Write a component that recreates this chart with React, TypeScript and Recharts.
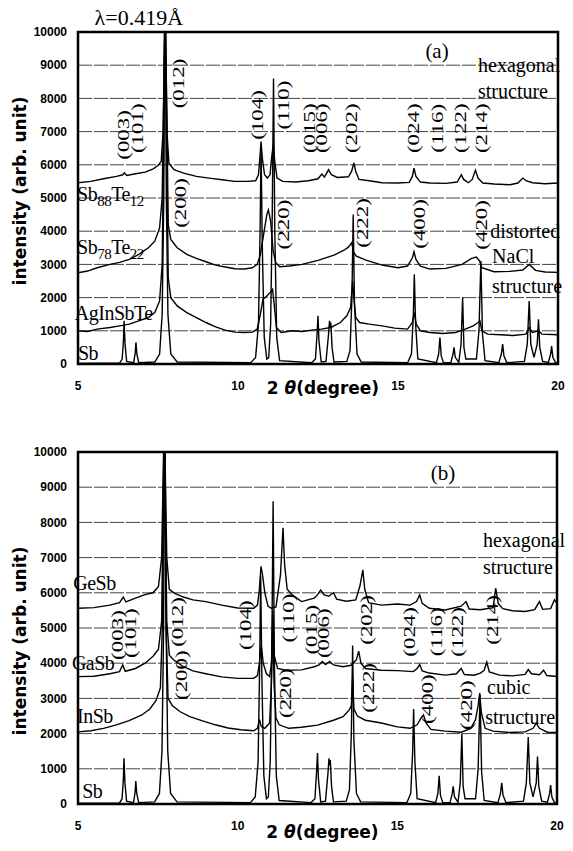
import React from "react"
import { LineChart, Line, XAxis, YAxis, CartesianGrid, ReferenceArea, ReferenceDot } from "recharts"

// 2theta (degree), intensity (arb. unit)
const sbPattern = [
  [5.0, 20], [6.3, 30], [6.38, 150], [6.42, 700], [6.44, 1300], [6.47, 600], [6.52, 80],
  [6.74, 40], [6.79, 350], [6.81, 650], [6.84, 300], [6.9, 40], [7.4, 60], [7.55, 300],
  [7.63, 1500], [7.68, 5000], [7.72, 12000], [7.76, 5000], [7.81, 1500], [7.9, 300], [8.1, 60],
  [10.4, 40], [10.55, 200], [10.64, 1200], [10.69, 4000], [10.72, 6500], [10.76, 3500],
  [10.82, 800], [10.9, 150], [10.96, 200], [11.02, 1200], [11.07, 4500], [11.11, 8600],
  [11.15, 4000], [11.21, 800], [11.3, 100], [12.3, 40], [12.42, 150], [12.47, 900], [12.5, 1450],
  [12.53, 700], [12.6, 60], [12.75, 80], [12.83, 900], [12.86, 1300], [12.88, 1100], [12.9, 1250],
  [12.94, 500], [13.0, 60], [13.4, 80], [13.5, 400], [13.56, 2000], [13.6, 4500], [13.64, 1800],
  [13.72, 300], [13.85, 60], [15.3, 40], [15.42, 300], [15.48, 1500], [15.51, 2700], [15.55, 1200],
  [15.62, 150], [16.2, 40], [16.27, 300], [16.31, 800], [16.35, 250], [16.42, 40], [16.65, 40],
  [16.72, 300], [16.75, 500], [16.79, 200], [16.9, 50], [16.97, 600], [17.02, 2000], [17.06, 500],
  [17.12, 150], [17.45, 150], [17.53, 1000], [17.59, 3100], [17.64, 900], [17.72, 100],
  [18.15, 40], [18.23, 300], [18.27, 600], [18.31, 250], [18.4, 40], [18.95, 80], [19.04, 600],
  [19.1, 1900], [19.15, 600], [19.25, 200], [19.35, 600], [19.39, 1350], [19.43, 500], [19.52, 80],
  [19.7, 50], [19.77, 300], [19.8, 540], [19.84, 200], [19.92, 40], [20.0, 30],
]

const agInSbTePattern = [
  [5.0, 1000], [5.3, 980], [5.6, 1050], [6.0, 1100], [6.3, 1150], [6.6, 1200], [6.9, 1300],
  [7.2, 1400], [7.4, 1550], [7.55, 1900], [7.63, 3000], [7.68, 7000], [7.72, 11000], [7.77, 7000],
  [7.82, 2600], [7.9, 2000], [8.1, 1750], [8.4, 1550], [8.7, 1400], [9.0, 1250], [9.3, 1120],
  [9.6, 1020], [9.9, 960], [10.2, 950], [10.45, 960], [10.6, 1050], [10.7, 1500], [10.78, 1950],
  [10.9, 2050], [11.0, 2150], [11.08, 2250], [11.13, 1800], [11.2, 1100], [11.35, 950],
  [11.7, 1000], [12.0, 980], [12.3, 1020], [12.6, 1050], [12.9, 1100], [13.2, 1250], [13.4, 1450],
  [13.52, 1700], [13.58, 2500], [13.62, 2000], [13.68, 1400], [13.8, 1250], [14.1, 1200],
  [14.5, 1150], [14.9, 1080], [15.3, 1050], [15.45, 1250], [15.51, 1550], [15.57, 1200],
  [15.7, 1000], [16.0, 950], [16.4, 920], [16.8, 950], [17.1, 1050], [17.35, 1150], [17.5, 1250],
  [17.56, 1300], [17.62, 1000], [17.8, 900], [18.2, 880], [18.6, 860], [19.0, 900], [19.1, 1100],
  [19.2, 950], [19.4, 1000], [19.5, 900], [20.0, 880],
]

const sb78Te22Pattern = [
  [5.0, 2750], [5.3, 2800], [5.6, 2900], [6.0, 3000], [6.3, 3060], [6.6, 3150], [6.9, 3300],
  [7.2, 3500], [7.4, 3700], [7.55, 4100], [7.63, 5000], [7.68, 8000], [7.72, 11000], [7.77, 8000],
  [7.82, 4200], [7.9, 3750], [8.1, 3500], [8.4, 3300], [8.7, 3180], [9.0, 3080], [9.3, 2980],
  [9.6, 2920], [9.9, 2870], [10.2, 2860], [10.45, 2900], [10.6, 3000], [10.7, 3300], [10.8, 3900],
  [10.9, 4500], [10.95, 4640], [11.02, 4300], [11.1, 3400], [11.18, 3050], [11.3, 2930],
  [11.6, 2950], [12.0, 3000], [12.5, 3120], [13.0, 3280], [13.3, 3420], [13.45, 3520],
  [13.55, 3650], [13.62, 3350], [13.7, 3250], [14.0, 3130], [14.5, 2980], [15.0, 2900],
  [15.3, 2950], [15.45, 3200], [15.5, 3380], [15.56, 3150], [15.7, 2950], [16.0, 2860],
  [16.5, 2880], [17.0, 3000], [17.3, 3180], [17.45, 3220], [17.55, 3100], [17.62, 2900],
  [18.0, 2780], [18.5, 2790], [18.9, 2830], [19.1, 3000], [19.3, 2820], [19.6, 2770], [20.0, 2760],
]

const sb88Te12Pattern = [
  [5.0, 5460], [5.4, 5500], [5.8, 5580], [6.2, 5650], [6.4, 5700], [6.45, 5760], [6.52, 5680],
  [6.8, 5730], [7.1, 5780], [7.35, 5880], [7.5, 5980], [7.6, 6100], [7.66, 7000], [7.72, 11000],
  [7.78, 7000], [7.84, 6050], [8.0, 5850], [8.3, 5750], [8.7, 5650], [9.1, 5600], [9.5, 5550],
  [9.9, 5500], [10.3, 5500], [10.55, 5520], [10.64, 5700], [10.69, 6300], [10.72, 6700],
  [10.76, 6200], [10.83, 5700], [10.92, 5600], [11.0, 5700], [11.05, 6200], [11.1, 6600],
  [11.15, 6100], [11.22, 5600], [11.4, 5500], [11.8, 5480], [12.2, 5520], [12.5, 5580],
  [12.62, 5720], [12.7, 5630], [12.83, 5850], [12.92, 5700], [13.1, 5620], [13.45, 5640],
  [13.55, 5800], [13.62, 6060], [13.68, 5800], [13.78, 5560], [14.1, 5520], [14.5, 5460],
  [15.0, 5450], [15.35, 5470], [15.45, 5650], [15.5, 5900], [15.56, 5650], [15.7, 5480],
  [16.0, 5450], [16.5, 5440], [16.85, 5480], [16.98, 5700], [17.05, 5560], [17.2, 5460],
  [17.32, 5560], [17.42, 5840], [17.5, 5600], [17.65, 5450], [18.0, 5420], [18.5, 5400],
  [18.75, 5450], [18.9, 5600], [19.0, 5520], [19.2, 5460], [19.6, 5430], [20.0, 5450],
]

const inSbPattern = [
  [5.0, 2050], [5.4, 2080], [5.8, 2150], [6.2, 2250], [6.6, 2370], [7.0, 2530], [7.25, 2700],
  [7.45, 2950], [7.58, 3300], [7.64, 5000], [7.7, 11000], [7.76, 5000], [7.82, 3000], [7.95, 2800],
  [8.2, 2620], [8.5, 2480], [8.9, 2360], [9.3, 2250], [9.7, 2160], [10.1, 2110], [10.5, 2080],
  [10.62, 2150], [10.68, 2400], [10.74, 2200], [10.85, 2150], [11.0, 2300], [11.06, 3500],
  [11.1, 5200], [11.14, 3400], [11.2, 2450], [11.3, 2250], [11.6, 2150], [12.0, 2180],
  [12.5, 2240], [13.0, 2380], [13.3, 2480], [13.5, 2680], [13.56, 2800], [13.6, 3600],
  [13.64, 2700], [13.75, 2500], [14.0, 2380], [14.5, 2300], [15.0, 2190], [15.4, 2150],
  [15.62, 2250], [15.75, 2450], [15.82, 2530], [15.9, 2300], [16.05, 2120], [16.5, 2070],
  [17.0, 2040], [17.3, 2150], [17.45, 2400], [17.53, 2800], [17.58, 3150], [17.63, 2600],
  [17.75, 2150], [18.0, 2070], [18.5, 2030], [19.0, 2050], [19.25, 2150], [19.35, 2300],
  [19.45, 2150], [19.7, 2040], [20.0, 2030],
]

const gaSbPattern = [
  [5.0, 3620], [5.5, 3630], [6.0, 3700], [6.3, 3760], [6.4, 3950], [6.48, 3770], [6.8, 3850],
  [7.1, 4000], [7.35, 4200], [7.52, 4400], [7.62, 5200], [7.7, 11000], [7.78, 5200], [7.86, 4230],
  [8.0, 4090], [8.3, 3900], [8.6, 3780], [9.0, 3700], [9.5, 3610], [10.0, 3570], [10.5, 3570],
  [10.62, 3650], [10.68, 4000], [10.74, 4500], [10.8, 4000], [10.9, 3700], [11.0, 3620],
  [11.06, 4000], [11.1, 5500], [11.15, 4200], [11.25, 3850], [11.5, 3800], [12.0, 3810],
  [12.4, 3900], [12.55, 3950], [12.65, 4050], [12.75, 3960], [12.88, 4050], [13.0, 3950],
  [13.3, 3900], [13.55, 3940], [13.72, 4100], [13.79, 4340], [13.86, 4000], [14.0, 3850],
  [14.5, 3800], [15.0, 3790], [15.5, 3760], [15.62, 3850], [15.7, 3960], [15.78, 3780],
  [16.0, 3720], [16.5, 3660], [16.85, 3700], [17.0, 3850], [17.1, 3680], [17.4, 3660],
  [17.6, 3720], [17.72, 3800], [17.8, 4030], [17.88, 3750], [18.2, 3660], [18.6, 3640],
  [19.0, 3680], [19.1, 3820], [19.2, 3700], [19.45, 3670], [19.58, 3800], [19.68, 3650],
  [20.0, 3620],
]

const geSbPattern = [
  [5.0, 5560], [5.5, 5580], [6.0, 5650], [6.3, 5720], [6.42, 5880], [6.5, 5740], [6.8, 5850],
  [7.1, 5950], [7.35, 6000], [7.52, 6180], [7.62, 7000], [7.7, 11000], [7.78, 7000], [7.86, 6100],
  [8.0, 6000], [8.3, 5880], [8.6, 5800], [9.0, 5750], [9.5, 5650], [10.0, 5570], [10.5, 5560],
  [10.62, 5650], [10.68, 6100], [10.73, 6750], [10.78, 6500], [10.85, 6000], [10.95, 5620],
  [11.05, 5560], [11.2, 5600], [11.34, 6500], [11.42, 7850], [11.47, 6800], [11.55, 6100],
  [11.7, 5950], [12.0, 5750], [12.4, 5850], [12.5, 5940], [12.6, 6080], [12.7, 5950],
  [12.85, 5900], [13.0, 6000], [13.1, 5820], [13.4, 5760], [13.7, 5800], [13.83, 6200],
  [13.92, 6650], [13.98, 6100], [14.1, 5720], [14.5, 5650], [15.0, 5680], [15.4, 5650],
  [15.6, 5750], [15.7, 5940], [15.78, 5700], [16.0, 5560], [16.5, 5510], [17.0, 5620],
  [17.15, 5750], [17.25, 5540], [17.6, 5520], [18.0, 5580], [18.08, 6130], [18.16, 5700],
  [18.3, 5550], [18.6, 5490], [19.0, 5470], [19.3, 5520], [19.45, 5750], [19.55, 5530],
  [19.8, 5550], [19.92, 5800], [20.0, 5700],
]

const xTicks = [5, 10, 15, 20]
const yTicks = [0, 1000, 2000, 3000, 4000, 5000, 6000, 7000, 8000, 9000, 10000]

// peak index labels, anchored at (2theta, intensity)
const topHkl = [
  { t: "(003)", x: 6.41, y: 6900 }, { t: "(101)", x: 6.84, y: 7100 },
  { t: "(012)", x: 8.12, y: 8450 }, { t: "(104)", x: 10.6, y: 7500 },
  { t: "(110)", x: 11.42, y: 7800 }, { t: "(015)", x: 12.22, y: 7100 },
  { t: "(006)", x: 12.59, y: 7100 }, { t: "(202)", x: 13.55, y: 7100 },
  { t: "(024)", x: 15.47, y: 7100 }, { t: "(116)", x: 16.23, y: 7100 },
  { t: "(122)", x: 16.94, y: 7100 }, { t: "(214)", x: 17.61, y: 7100 },
  { t: "(200)", x: 8.19, y: 4850 }, { t: "(220)", x: 11.42, y: 4200 },
  { t: "(222)", x: 13.88, y: 4250 }, { t: "(400)", x: 15.66, y: 4220 },
  { t: "(420)", x: 17.59, y: 4190 },
]

const bottomHkl = [
  { t: "(003)", x: 6.21, y: 4800 }, { t: "(101)", x: 6.63, y: 4850 },
  { t: "(012)", x: 8.1, y: 5170 }, { t: "(104)", x: 10.23, y: 5080 },
  { t: "(110)", x: 11.59, y: 5280 }, { t: "(015)", x: 12.3, y: 4950 },
  { t: "(006)", x: 12.67, y: 4850 }, { t: "(202)", x: 14.02, y: 5230 },
  { t: "(024)", x: 15.37, y: 4890 }, { t: "(116)", x: 16.21, y: 4890 },
  { t: "(122)", x: 16.87, y: 4890 }, { t: "(214)", x: 17.97, y: 5230 },
  { t: "(200)", x: 8.23, y: 3660 }, { t: "(220)", x: 11.5, y: 3150 },
  { t: "(222)", x: 14.08, y: 3300 }, { t: "(400)", x: 15.93, y: 2980 },
  { t: "(420)", x: 17.15, y: 2810 },
]

const topNotes = [
  { t: "(a)", x: 16.22, y: 9220, anchor: "middle", size: 21 },
  { t: "hexagonal", x: 17.5, y: 8800, anchor: "start", size: 20 },
  { t: "structure", x: 17.5, y: 8010, anchor: "start", size: 20 },
  { t: "distorted", x: 17.88, y: 3800, anchor: "start", size: 20 },
  { t: "NaCl", x: 17.94, y: 3040, anchor: "start", size: 20 },
  { t: "structure", x: 17.94, y: 2140, anchor: "start", size: 20 },
  { t: "\u03bb=0.419\u00c5", x: 6.9, y: 10210, anchor: "middle", size: 22 },
]

const bottomNotes = [
  { t: "(b)", x: 16.43, y: 9200, anchor: "middle", size: 21 },
  { t: "hexagonal", x: 17.68, y: 7310, anchor: "start", size: 20 },
  { t: "structure", x: 17.68, y: 6530, anchor: "start", size: 20 },
  { t: "cubic", x: 17.81, y: 3120, anchor: "start", size: 20 },
  { t: "structure", x: 17.75, y: 2270, anchor: "start", size: 20 },
]

const topNames = [
  { parts: [["Sb", 0], ["88", 1], ["Te", 0], ["12", 1]], x: 4.97, y: 4900 },
  { parts: [["Sb", 0], ["78", 1], ["Te", 0], ["22", 1]], x: 4.97, y: 3310 },
  { parts: [["AgInSbTe", 0]], x: 4.9, y: 1320 },
  { parts: [["Sb", 0]], x: 5.0, y: 120 },
]

const bottomNames = [
  { parts: [["GeSb", 0]], x: 4.85, y: 6080 },
  { parts: [["GaSb", 0]], x: 4.81, y: 3800 },
  { parts: [["InSb", 0]], x: 4.97, y: 2290 },
  { parts: [["Sb", 0]], x: 5.13, y: 170 },
]

const toPts = (arr: number[][]) => arr.map(([x, y]) => ({ x, y }))

const serif = "'Liberation Serif', 'Times New Roman', serif"

function HklText(props: any) {
  const { viewBox, text } = props
  return (
    <text
      transform={`translate(${viewBox.x},${viewBox.y}) rotate(-90) scale(1.35,1)`}
      textAnchor="middle"
      dominantBaseline="central"
      fontFamily={serif}
      fontSize={17}
      fill="#000"
    >
      {text}
    </text>
  )
}

function NoteText(props: any) {
  const { viewBox, text, anchor, size } = props
  return (
    <text x={viewBox.x} y={viewBox.y} textAnchor={anchor} fontFamily={serif} fontSize={size} fill="#000">
      {text}
    </text>
  )
}

function NameText(props: any) {
  const { viewBox, parts } = props
  return (
    <text x={viewBox.x} y={viewBox.y} fontFamily={serif} fontSize={20} fill="#000" letterSpacing={-0.5}>
      {parts.map(([s, sub]: [string, number], i: number) => {
        const prevSub = i > 0 && parts[i - 1][1]
        const dy = sub ? 5 : prevSub ? -5 : 0
        return (
          <tspan key={i} dy={dy} fontSize={sub ? 15 : 20}>
            {s}
          </tspan>
        )
      })}
    </text>
  )
}

function YTitle(props: any) {
  const { viewBox, shift } = props
  const cx = viewBox.x + 20
  const cy = viewBox.y + viewBox.height / 2 + shift
  return (
    <text
      transform={`translate(${cx},${cy}) rotate(-90)`}
      textAnchor="middle"
      dominantBaseline="central"
      fontFamily="'DejaVu Sans', sans-serif"
      fontWeight="bold"
      fontSize={17}
      fill="#000"
    >
      intensity (arb. unit)
    </text>
  )
}

function XTitle(props: any) {
  const { viewBox, drop } = props
  return (
    <text
      x={viewBox.x + viewBox.width / 2 + 5}
      y={viewBox.y + drop}
      textAnchor="middle"
      fontFamily="'DejaVu Sans', sans-serif"
      fontWeight="bold"
      fontSize={17}
      fill="#000"
    >
      <tspan>2 </tspan>
      <tspan fontStyle="italic">θ</tspan>
      <tspan>(degree)</tspan>
    </text>
  )
}

const tickStyle = { fontFamily: "'Liberation Sans', Arial, sans-serif", fontWeight: 700, fontSize: 12, fill: "#000" }

function Panel(props: any) {
  const { top, height, margin, series, hkl, notes, names, yShift, xDrop } = props
  return (
    <div style={{ position: "absolute", left: 0, top, width: 573, height }}>
      <LineChart width={573} height={height} margin={margin}>
        <CartesianGrid vertical={false} stroke="#444" strokeDasharray="14 2" />
        <XAxis
          type="number"
          dataKey="x"
          domain={[5, 20]}
          ticks={xTicks}
          allowDataOverflow
          axisLine={false}
          tickLine={false}
          tickSize={6}
          tickMargin={11}
          height={30}
          tick={tickStyle}
          label={<XTitle drop={xDrop} />}
        />
        <YAxis
          type="number"
          domain={[0, 10000]}
          ticks={yTicks}
          allowDataOverflow
          axisLine={false}
          tickLine={false}
          tickSize={6}
          tickMargin={5}
          width={78}
          tick={tickStyle}
          label={<YTitle shift={yShift} />}
        />
        <ReferenceArea x1={5} x2={20} y1={0} y2={10000} fill="none" stroke="#000" strokeWidth={2.5} />
        {series.map((s: number[][], i: number) => (
          <Line
            key={i}
            data={toPts(s)}
            dataKey="y"
            type="linear"
            stroke="#000"
            strokeWidth={1.4}
            dot={false}
            isAnimationActive={false}
          />
        ))}
        {hkl.map((h: any, i: number) => (
          <ReferenceDot key={"h" + i} x={h.x} y={h.y} r={0} fill="none" stroke="none" ifOverflow="visible"
            label={<HklText text={h.t} />} />
        ))}
        {notes.map((n: any, i: number) => (
          <ReferenceDot key={"n" + i} x={n.x} y={n.y} r={0} fill="none" stroke="none" ifOverflow="visible"
            label={<NoteText text={n.t} anchor={n.anchor} size={n.size} />} />
        ))}
        {names.map((n: any, i: number) => (
          <ReferenceDot key={"s" + i} x={n.x} y={n.y} r={0} fill="none" stroke="none" ifOverflow="visible"
            label={<NameText parts={n.parts} />} />
        ))}
      </LineChart>
    </div>
  )
}

export default function App() {
  return (
    <div style={{ position: "absolute", left: 0, top: 0, width: 573, height: 851, background: "#fff" }}>
      <Panel
        top={0}
        height={410}
        margin={{ top: 32, right: 15, bottom: 16, left: 0 }}
        series={[sbPattern, agInSbTePattern, sb78Te22Pattern, sb88Te12Pattern]}
        hkl={topHkl}
        notes={topNotes}
        names={topNames}
        yShift={-7}
        xDrop={30}
      />
      <Panel
        top={410}
        height={441}
        margin={{ top: 42, right: 16, bottom: 17, left: 0 }}
        series={[sbPattern, inSbPattern, gaSbPattern, geSbPattern]}
        hkl={bottomHkl}
        notes={bottomNotes}
        names={bottomNames}
        yShift={13}
        xDrop={34}
      />
    </div>
  )
}
